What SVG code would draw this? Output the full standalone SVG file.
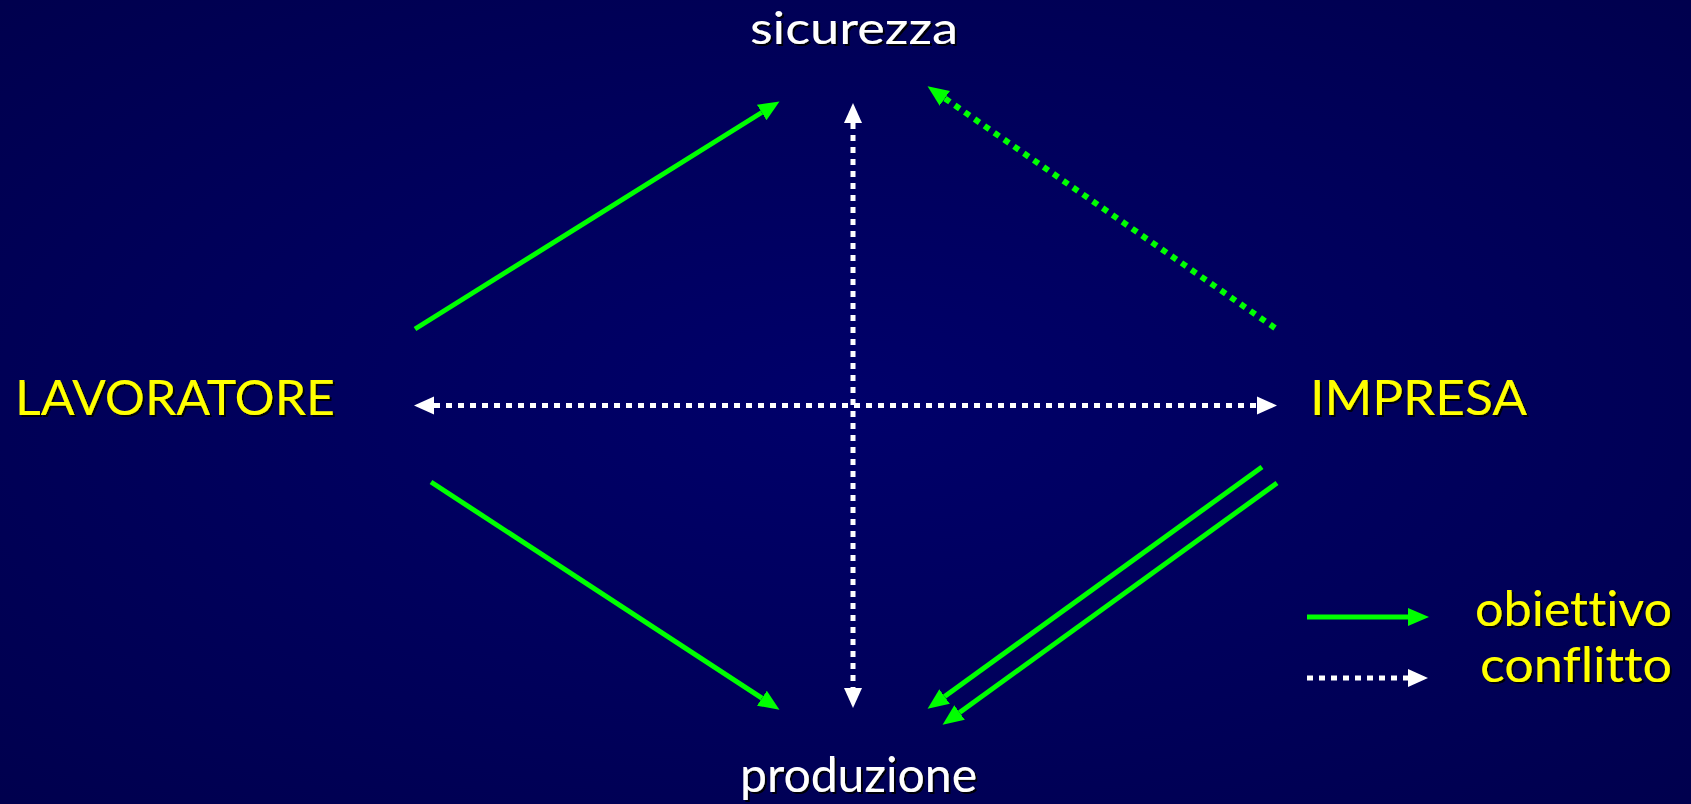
<svg xmlns="http://www.w3.org/2000/svg" width="1691" height="804" viewBox="0 0 1691 804">
  <defs>
    <radialGradient id="bg" cx="50%" cy="50%" r="75%">
      <stop offset="0" stop-color="#00006a"/>
      <stop offset="1" stop-color="#00004c"/>
    </radialGradient>
    <filter id="shadow" x="-10%" y="-20%" width="120%" height="150%">
      <feDropShadow dx="2" dy="2" stdDeviation="0.6" flood-color="#000000" flood-opacity="0.9"/>
    </filter>
    <marker id="headG" markerUnits="userSpaceOnUse" markerWidth="24" markerHeight="22" refX="0" refY="9" orient="auto" viewBox="0 0 24 18">
      <path d="M0,0 L21,9 L0,18 Z" fill="#00ff00"/>
    </marker>
    <marker id="headW" markerUnits="userSpaceOnUse" markerWidth="24" markerHeight="22" refX="0" refY="9" orient="auto-start-reverse" viewBox="0 0 24 18">
      <path d="M0,0 L20,9 L0,18 Z" fill="#ffffff"/>
    </marker>
  </defs>
  <style>
    .lbl { font-family: "Comic Sans MS", "Lato", "Open Sans", sans-serif; font-size: 48px; font-variant-ligatures: none; filter: url(#shadow); }
    .top { font-size: 44px; }
    .yel { fill: #ffff00; }
    .wht { fill: #ffffff; }
    .solid { stroke: #00ff00; stroke-width: 5; fill: none; marker-end: url(#headG); }
    .dotG { stroke: #00ff00; stroke-width: 6; fill: none; stroke-dasharray: 6 6; marker-end: url(#headG); }
    .dotW { stroke: #ffffff; stroke-width: 5; fill: none; stroke-dasharray: 6 6; }
  </style>
  <rect width="1691" height="804" fill="url(#bg)"/>

  <g id="connectors">
    <line class="solid" x1="415" y1="329" x2="761.7" y2="112.5"/>
    <line class="solid" x1="431" y1="482" x2="761.9" y2="698.2"/>
    <line class="dotG" x1="1275" y1="328" x2="944.8" y2="98.3"/>
    <line class="solid" x1="1262" y1="467" x2="944.6" y2="696.5"/>
    <line class="solid" x1="1277" y1="483" x2="959.6" y2="712.5"/>
    <line class="dotW" x1="853" y1="123" x2="853" y2="688" marker-start="url(#headW)" marker-end="url(#headW)"/>
    <line class="dotW" x1="434" y1="405.5" x2="1257" y2="405.5" marker-start="url(#headW)" marker-end="url(#headW)"/>
  </g>

  <g id="node-sicurezza">
    <text class="lbl wht top" x="750" y="44" textLength="208" lengthAdjust="spacingAndGlyphs">sicurezza</text>
  </g>
  <g id="node-lavoratore">
    <text class="lbl yel" x="15" y="415" textLength="320" lengthAdjust="spacingAndGlyphs">LAVORATORE</text>
  </g>
  <g id="node-impresa">
    <text class="lbl yel" x="1310" y="415" textLength="217" lengthAdjust="spacingAndGlyphs">IMPRESA</text>
  </g>
  <g id="node-produzione">
    <text class="lbl wht" x="740" y="792" textLength="237" lengthAdjust="spacingAndGlyphs">produzione</text>
  </g>

  <g id="legend">
    <line class="solid" x1="1307" y1="617" x2="1408" y2="617"/>
    <text class="lbl yel" x="1475" y="626" textLength="197" lengthAdjust="spacingAndGlyphs">obiettivo</text>
    <line class="dotW" x1="1307" y1="678" x2="1408" y2="678" marker-end="url(#headW)"/>
    <text class="lbl yel" x="1480" y="682" textLength="192" lengthAdjust="spacingAndGlyphs">conflitto</text>
  </g>
</svg>
